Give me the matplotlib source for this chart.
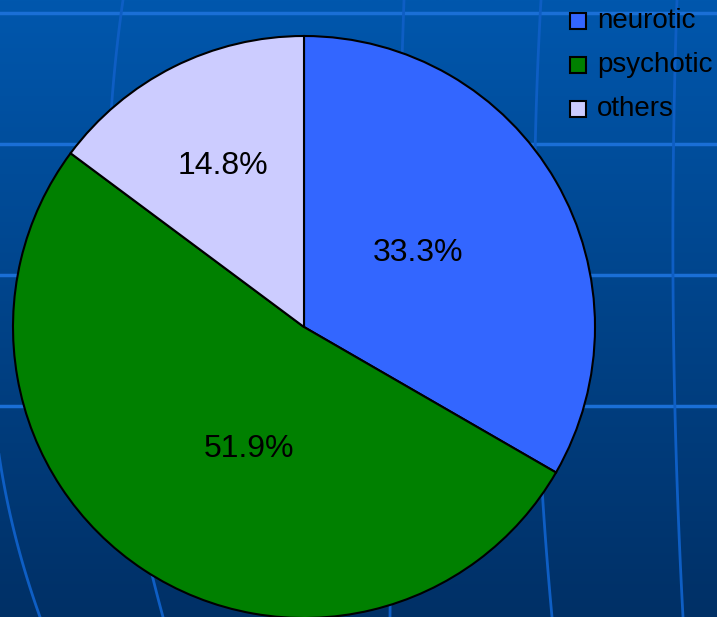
import numpy as np
import matplotlib
matplotlib.use("Agg")
import matplotlib.pyplot as plt
from matplotlib.patches import Rectangle

categories = ["neurotic", "psychotic", "others"]
values = [9, 14, 4]
colors = ["#3366FF", "#008000", "#CCCCFF"]
label_dist = [0.467, 0.46, 0.62]
label_rot = [3, 9, 0]

W, H = 717, 617
fig = plt.figure(figsize=(W / 100, H / 100), dpi=100)
ax = fig.add_axes([0, 0, 1, 1])

# background gradient
top = np.array([0x00, 0x57, 0xAD]) / 255
bot = np.array([0x00, 0x30, 0x66]) / 255
t = np.linspace(0, 1, 256)[:, None]
grad = top * (1 - t) + bot * t
ax.imshow(grad[:, None, :], extent=[0, W, 0, H], aspect="auto", zorder=0)

# decorative grid lines
hcol = "#1a6fd6"
vcol = "#0e5ec4"
for yp in [13, 144, 275, 406]:
    ax.plot([0, W], [H - yp, H - yp], color=hcol, lw=2.5, zorder=1)

def vcurve(pts, y0=0, y1=H):
    py = [p[1] for p in pts]
    px = [p[0] for p in pts]
    coef = np.polyfit(py, px, 2)
    yy = np.linspace(y0, y1, 80)
    ax.plot(np.polyval(coef, yy), H - yy, color=vcol, lw=2, zorder=1)

vcurve([(123, 0), (112, 100), (163, 617)])
vcurve([(7, 500), (15, 535), (40, 617)], y0=420)
vcurve([(404, 0), (402, 60), (390, 617)])
vcurve([(541, 0), (538, 60), (552, 617)])
vcurve([(677, 0), (673, 200), (683, 617)])

# pie
cx, cy, r = 304, H - 327, 291
wedges, _ = ax.pie(values, colors=colors, startangle=90, counterclock=False,
                   radius=r, center=(cx, cy),
                   wedgeprops=dict(edgecolor="black", linewidth=1.5), frame=True)
ax.set_xlim(0, W)
ax.set_ylim(0, H)
ax.set_aspect("equal")
ax.axis("off")
total = sum(values)
for w, v, d, rot in zip(wedges, values, label_dist, label_rot):
    mid = np.deg2rad((w.theta1 + w.theta2) / 2 + rot)
    ax.text(cx + d * r * np.cos(mid), cy + d * r * np.sin(mid),
            f"{100 * v / total:.1f}%", ha="center", va="center",
            fontsize=23, family="Liberation Sans", color="black", zorder=5)

# legend
for i, (c, lab) in enumerate(zip(colors, categories)):
    yc = H - (21 + 44 * i)
    ax.add_patch(Rectangle((569.5, yc - 8), 16, 16, facecolor=c,
                           edgecolor="black", lw=1.5, zorder=5))
    ax.text(597, yc, lab, ha="left", va="center", fontsize=20,
            family="Liberation Sans", color="black", zorder=5)

fig.savefig("out.png", dpi=100)
